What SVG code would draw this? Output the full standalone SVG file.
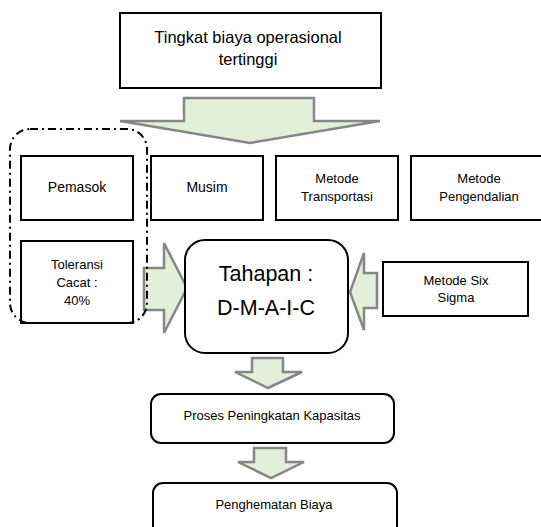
<svg xmlns="http://www.w3.org/2000/svg" width="541" height="527" viewBox="0 0 541 527">
<style>
.box{fill:#fff;stroke:#000;stroke-width:2}
.arr{fill:#e2efd9;stroke:#868686;stroke-width:2.5;stroke-linejoin:miter}
text{font-family:"Liberation Sans",Arial,sans-serif;fill:#000;text-anchor:middle}
.t13{font-size:13px}
.t14{font-size:14px}
.t15{font-size:16.5px}
.t21{font-size:21.5px}
</style>
<rect width="541" height="527" fill="#fff"/>
<g id="connectors">
<polygon class="arr" points="184,98 314,98 314,121 380,121 250,143 120,121 184,121"/>
<polygon class="arr" points="144,268 164,268 164,243 187,288 164,333 164,310 144,310"/>
<polygon class="arr" points="377,273 364,273 364,253 350,292 364,330 364,308 377,308"/>
<polygon class="arr" points="252,358 283,358 283,372 302,372 268,388 235,372 252,372"/>
<polygon class="arr" points="254,448 286,448 286,462 304,462 271,478 238,462 254,462"/>
</g>
<g id="top">
<rect class="box" x="120" y="13" width="261" height="75"/>
<text class="t15" x="248" y="43">Tingkat biaya operasional</text>
<text class="t15" x="248" y="65">tertinggi</text>
</g>
<g id="pemasok">
<rect class="box" x="21" y="156" width="112" height="64"/>
<text class="t14" x="77" y="192">Pemasok</text>
</g>
<g id="musim">
<rect class="box" x="151" y="156" width="112" height="64"/>
<text class="t14" x="207" y="192">Musim</text>
</g>
<g id="transportasi">
<rect class="box" x="276" y="156" width="122" height="64"/>
<text class="t13" x="337" y="183">Metode</text>
<text class="t13" x="337" y="201">Transportasi</text>
</g>
<g id="pengendalian">
<rect class="box" x="411" y="156" width="137" height="64"/>
<text class="t13" x="479" y="183">Metode</text>
<text class="t13" x="479" y="201">Pengendalian</text>
</g>
<g id="toleransi">
<rect class="box" x="21" y="241" width="112" height="82"/>
<text class="t13" x="77" y="269">Toleransi</text>
<text class="t13" x="77" y="287">Cacat :</text>
<text class="t13" x="77" y="305">40%</text>
</g>
<g id="group-outline">
<rect x="10" y="129" width="137" height="194" rx="20" fill="none" stroke="#000" stroke-width="2" stroke-dasharray="8,4,2,4"/>
</g>
<g id="tahapan">
<rect class="box" x="185" y="240" width="163" height="113" rx="20"/>
<text class="t21" x="266" y="281">Tahapan :</text>
<text class="t21" x="266" y="315">D-M-A-I-C</text>
</g>
<g id="sixsigma">
<rect class="box" x="383" y="262" width="145" height="54"/>
<text class="t13" x="456" y="285">Metode Six</text>
<text class="t13" x="456" y="302">Sigma</text>
</g>
<g id="proses">
<rect class="box" x="151" y="394" width="243" height="49" rx="10"/>
<text class="t13" x="272" y="420">Proses Peningkatan Kapasitas</text>
</g>
<g id="penghematan">
<rect class="box" x="153" y="483" width="244" height="60" rx="10"/>
<text class="t13" x="274" y="509">Penghematan Biaya</text>
</g>
</svg>
